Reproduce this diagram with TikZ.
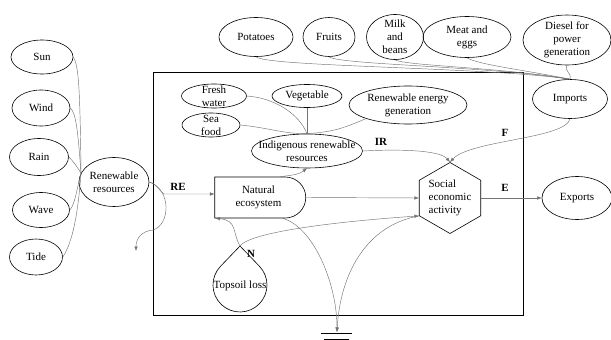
\documentclass[tikz,border=0pt]{standalone}
\usepackage{fontspec}
\setmainfont{Liberation Serif}
\usetikzlibrary{shapes.geometric,shapes.misc,arrows.meta}
\tikzset{
  oval/.style={draw, ellipse, inner sep=0pt, line width=0.6pt},
  flow/.style={draw=black!55, line width=0.45pt},
  every label/.style={align=center, inner sep=0pt, font=\rmfamily\fontsize{11}{13}\selectfont},
  tag/.style={font=\rmfamily\fontsize{11}{13}\selectfont\bfseries},
}
\begin{document}
\begin{tikzpicture}[x=1pt, y=-1pt, font=\rmfamily\fontsize{11}{13}\selectfont,
    >={Latex[length=4.5pt,width=3.5pt]}]
\useasboundingbox (0,0) rectangle (611,340);
\draw[line width=0.7pt] (153,72) rectangle (523,315);

% sources on the left
\node[oval, minimum width=62, minimum height=34, label=center:Sun] (sun) at (42,57) {};
\node[oval, minimum width=58, minimum height=36, label=center:Wind] (wind) at (41,108) {};
\node[oval, minimum width=59, minimum height=37, label=center:Rain] (rain) at (39,157) {};
\node[oval, minimum width=57, minimum height=35, label=center:Wave] (wave) at (41,210) {};
\node[oval, minimum width=53, minimum height=36, label=center:Tide] (tide) at (36,257) {};
\node[oval, minimum width=70, minimum height=49, label={center:Renewable\\resources}] (rr) at (114,182) {};
\coordinate (rrin) at (rr.165);

% imports on top
\node[oval, minimum width=74, minimum height=39, label=center:Potatoes] (pot) at (256,37) {};
\node[oval, minimum width=52, minimum height=39, label=center:Fruits] (fruit) at (329,37) {};
\node[oval, minimum width=57, minimum height=45, label={center:Milk\\and\\beans}] (milk) at (395,37) {};
\node[oval, minimum width=88, minimum height=41, label={center:Meat and\\eggs}] (meat) at (467,37) {};
\node[oval, minimum width=88, minimum height=50, label={center:Diesel for\\power\\generation}] (diesel) at (567,40) {};
\node[oval, minimum width=75, minimum height=39, label=center:Imports] (imp) at (570,99) {};

% inside the system
\node[oval, minimum width=65, minimum height=24, label={center:Fresh\\water}] (fresh) at (214,96) {};
\node[oval, minimum width=58, minimum height=24, label={center:Sea\\food}] (seafood) at (211,125) {};
\node[oval, minimum width=70, minimum height=23, label=center:Vegetable] (veg) at (307,96) {};
\node[oval, minimum width=118, minimum height=38, label={center:Renewable energy\\generation}] (reg) at (408,105) {};
\node[oval, minimum width=111, minimum height=34, label={center:Indigenous renewable\\resources}] (irr) at (307,151) {};
\node[draw, rounded rectangle, rounded rectangle left arc=none, minimum width=91, minimum height=41,
  inner sep=0pt, line width=0.6pt, align=center] (nat) at (258.5,197.5) {Natural\\ecosystem};
\node[draw, regular polygon, regular polygon sides=6, shape border rotate=30, minimum size=71,
  inner sep=0pt, line width=0.6pt, label={[align=left]center:Social\\economic\\activity}] (soc) at (450,198) {};
\node[oval, minimum width=70, minimum height=43, label=center:Exports] (exp) at (577,198) {};

\coordinate (tip) at (240,246);
\draw[line width=0.6pt] (tip) -- (220.5,266.3) arc[start angle=136.2, end angle=403.8, radius=27pt] -- cycle;
\node (topsoil) at (240,286) {Topsoil loss};

\coordinate (sink) at (337,332);
\coordinate (split) at (164,194);
\coordinate (loss) at (136,251);
\draw[line width=0.5pt] (321,333) -- (352,333) (324,339) -- (349,339);

% connectors
\draw[flow] (sun.east) .. controls +(5,8) and +(-1,-90) .. (rrin);
\draw[flow] (wind.east) .. controls +(6,5) and +(-3,-40) .. (rrin);
\draw[flow] (rain.east) .. controls +(5,5) and +(-5,-8) .. (rrin);
\draw[flow] (wave.east) .. controls +(5,-5) and +(-4,15) .. (rrin);
\draw[flow] (tide.east) .. controls +(10,-15) and +(-3,40) .. (rrin);

\draw[flow, ->] (rr.east) .. controls +(8,2) and +(-4,-2) .. (split) -- ([yshift=3.5pt]nat.west);
\draw[flow, ->] (rr.east) .. controls (172,190) and (170,225) .. (153,230)
  .. controls (142,231) and (136,238) .. (loss);

\draw[flow] (pot.south) .. controls +(10,10) and +(-80,-12) .. (imp.north);
\draw[flow] (fruit.south) .. controls +(10,8) and +(-80,-13) .. (imp.north);
\draw[flow] (milk.south) .. controls +(10,6) and +(-70,-12) .. (imp.north);
\draw[flow] (meat.south) .. controls +(12,7) and +(-50,-10) .. (imp.north);
\draw[flow] (diesel.south) .. controls +(-4,5) and +(2,-7) .. (imp.north);

\draw[flow] (fresh.east) .. controls +(28,2) and +(-8,-20) .. (irr.north);
\draw[flow] (seafood.east) .. controls +(30,3) and +(-25,0) .. (irr.north);
\draw[flow] (veg.south) -- (irr.north);
\draw[flow] (reg.south west) .. controls +(-20,8) and +(30,-2) .. (irr.north);

\draw[flow, ->] ([xshift=22pt]nat.north) .. controls +(15,-2) and +(-8,6) .. (irr.south);
\draw[flow, ->] (nat.east) -- (soc.west);
\draw[flow, ->] (irr.east) .. controls +(38,-2) and +(-10,-12) .. (soc.north);
\draw[flow, ->] (imp.south) .. controls +(-4,20) and +(20,-22) .. (soc.north);
\draw[flow, ->] (soc.east) -- (exp.west);

\draw[flow, ->] (tip) .. controls +(-8,-14) and +(22,2) .. ([xshift=1pt]nat.south west);
\draw[flow, ->] (tip) .. controls +(12,-16) and +(-60,4) .. (soc.210);
\draw[flow, ->] ([xshift=24pt]nat.south) .. controls +(30,8) and +(0,-50) .. (sink);
\draw[flow, ->] (soc.210) .. controls +(-55,10) and +(3,-55) .. (sink);

% flow labels
\node[tag] (re) at (178,187) {RE};
\node[tag] (ir) at (381,142) {IR};
\node[tag] (f) at (505,133) {F};
\node[tag] (e) at (505,188) {E};
\node[tag] (n) at (251,254) {N};
\end{tikzpicture}
\end{document}
